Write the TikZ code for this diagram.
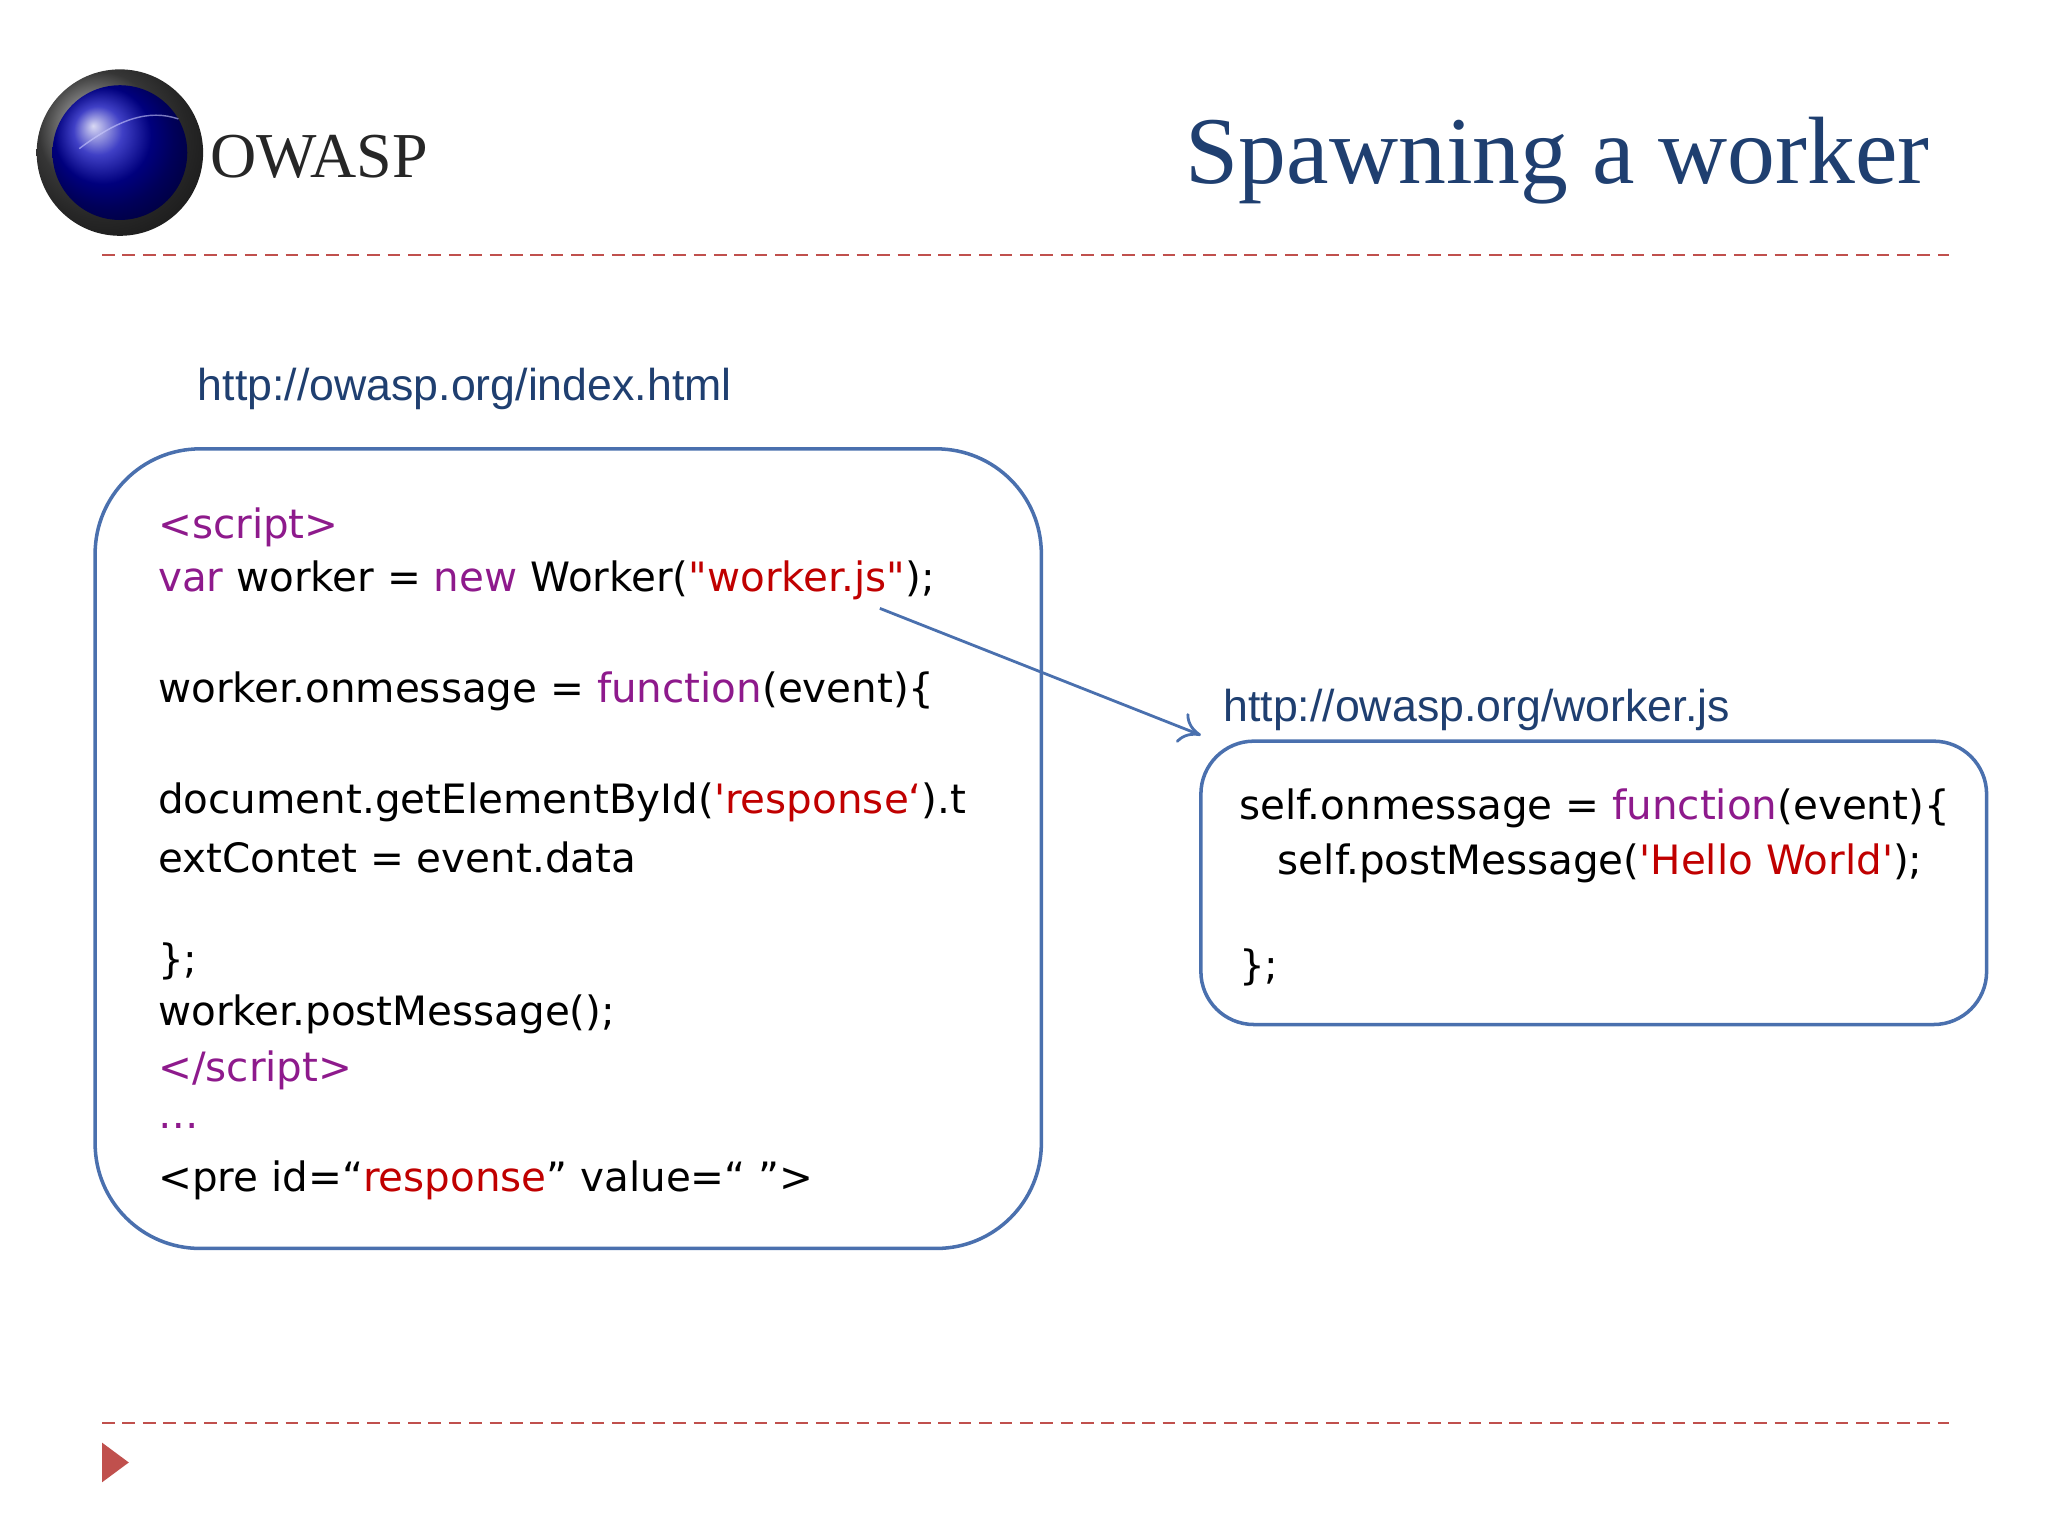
\documentclass[tikz,border=0pt]{standalone}
\usepackage{fontspec}
\setmainfont{Liberation Serif}
\newfontfamily\codef{DejaVu Sans}
\newfontfamily\urlf{Liberation Sans}
\usetikzlibrary{arrows.meta}
\definecolor{bx}{HTML}{4A70AE}
\definecolor{ttl}{HTML}{1F3F70}
\definecolor{kw}{HTML}{8E1A8C}
\definecolor{st}{HTML}{C00000}
\definecolor{dl}{HTML}{C0504D}
\begin{document}
\begin{tikzpicture}[x=0.01cm,y=-0.01cm,
  code/.style={anchor=west,inner sep=0,font=\codef\fontsize{11.5}{14}\selectfont},
  url/.style={anchor=west,inner sep=0,text=ttl,font=\urlf\fontsize{12.7}{15}\selectfont},
  box/.style={draw=bx,line width=1pt},
  dashl/.style={draw=dl,line width=0.6pt,dash pattern=on 3.6pt off 2.2pt}]
\useasboundingbox (0,0) rectangle (2048,1536);
\begin{scope}[x=0.0099cm,y=-0.0099cm]
% logo
\shade[ball color=black!70] (121,154) circle (84);
\shade[ball color=blue!70!black] (121,154) circle (68);
\draw[white!80!blue,opacity=0.6,line width=0.4pt] (80,150) .. controls (120,120) and (150,110) .. (180,120);
\node[anchor=west,inner sep=0,font=\fontsize{18.2}{22}\selectfont,text=black!85] (logo) at (212,158) {OWASP};
\node[anchor=east,inner sep=0,text=ttl,font=\fontsize{27.2}{30}\selectfont] (title) at (1948,162) {Spawning a worker};
\draw[dashl] (103,257) -- (1967,257);
\draw[dashl] (103,1436) -- (1967,1436);
\fill[fill=dl] (103,1456) -- (130,1476) -- (103,1496) -- cycle;
% boxes
\node[url] (u1) at (199,393) {http://owasp.org/index.html};
\draw[box,rounded corners=1.05cm] (96,453) rectangle (1051,1260);
\node[url] (u2) at (1234,717) {http://owasp.org/worker.js};
\draw[box,rounded corners=0.53cm] (1212,748) rectangle (2005,1034);
\node[code] (l1) at (159,532) {\textcolor{kw}{<script>}};
\node[code] (l2) at (159,586) {\textcolor{kw}{var} worker = \textcolor{kw}{new} Worker(\textcolor{st}{"worker.js"});};
\node[code] (l3) at (159,698) {worker.onmessage = \textcolor{kw}{function}(event)\{};
\node[code] (l4) at (159,810) {document.getElementById(\textcolor{st}{'response‘}).t};
\node[code] (l5) at (159,865) {extContet = event.data};
\node[code] (l6) at (159,970) {\};};
\node[code] (l7) at (159,1024) {worker.postMessage();};
\node[code] (l8) at (159,1080) {\textcolor{kw}{</script>}};
\node[code] (l9) at (159,1136) {\textcolor{kw}{…}};
\node[code] (l10) at (159,1191) {<pre id=“\textcolor{st}{response}” value=“ ”>};
\node[code] (r1) at (1250,816) {self.onmessage = \textcolor{kw}{function}(event)\{};
\node[code] (r2) at (1289,871) {self.postMessage(\textcolor{st}{'Hello World'});};
\node[code] (r3) at (1250,976) {\};};
\coordinate (a0) at (888,614);
\coordinate (a1) at (1212,742);
\draw[bx,line width=0.8pt,-{To[length=6pt,width=9pt]}] (a0) -- (a1);
\end{scope}
\end{tikzpicture}
\end{document}
